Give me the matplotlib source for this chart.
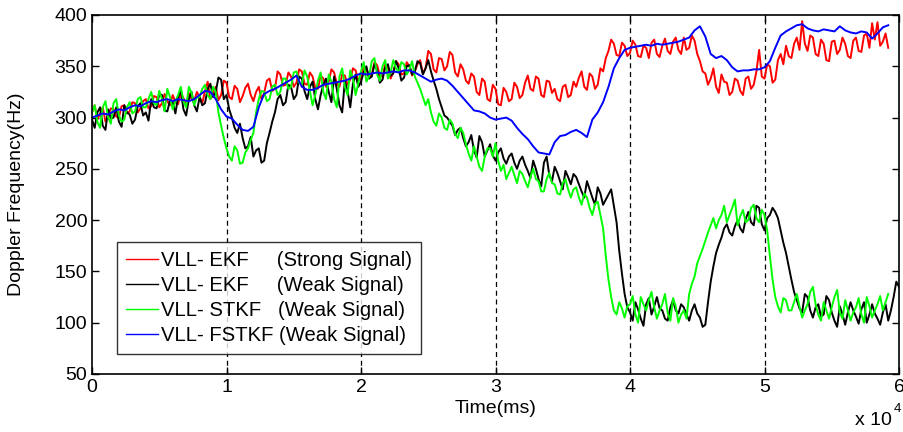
import numpy as np
import matplotlib
matplotlib.use("Agg")
import matplotlib.pyplot as plt

plt.rcParams['font.family'] = ['Liberation Sans', 'DejaVu Sans']

# time step between readings (ms)
noisy_step_ms = 200
blue_step_ms = 400

blue = [300, 302, 304, 303, 306, 308, 307, 310, 312, 311,
        314, 316, 315, 317, 318, 316, 318, 317, 316, 318,
        322, 326, 325, 318, 308, 301, 299, 293, 288, 287,
        291, 310, 323, 326, 328, 331, 334, 337, 341, 330,
        327, 327, 329, 332, 333, 334, 335, 336, 338, 341,
        343, 342, 343, 344, 343, 344, 345, 344, 346, 346,
        344, 341, 338, 335, 337, 338, 336, 331, 325, 319,
        313, 307, 306, 304, 300, 298, 299, 300, 297, 290,
        284, 279, 272, 266, 265, 264, 276, 282, 283, 286,
        288, 285, 281, 298, 305, 315, 330, 348, 358, 366,
        368, 369, 370, 371, 370, 372, 371, 372, 373, 374,
        376, 378, 385, 389, 379, 362, 358, 360, 356, 349,
        345, 346, 346, 347, 347, 349, 355, 368, 380, 384,
        387, 390, 391, 387, 385, 384, 386, 385, 384, 389,
        385, 383, 382, 384, 383, 377, 382, 388, 390]

red = [305, 312, 298, 304, 310, 296, 302, 309, 308, 301, 300, 311, 312, 304, 306, 315, 314, 305, 309, 316,
       318, 309, 311, 321, 320, 310, 314, 323, 316, 312, 322, 315, 313, 324, 319, 312, 324, 318, 316, 325,
       320, 314, 326, 335, 318, 324, 330, 317, 322, 336, 334, 320, 318, 331, 328, 315, 321, 329, 333, 322,
       316, 325, 330, 318, 324, 336, 338, 326, 328, 345, 342, 331, 332, 344, 340, 330, 334, 347, 345, 333,
       332, 344, 340, 329, 328, 341, 338, 330, 335, 347, 344, 333, 330, 342, 341, 332, 337, 348, 346, 336,
       338, 350, 348, 339, 342, 354, 351, 341, 340, 352, 349, 338, 344, 355, 352, 342, 343, 354, 350, 341,
       345, 352, 356, 343, 348, 365, 362, 347, 344, 358, 357, 346, 350, 364, 361, 344, 340, 352, 347, 336,
       333, 343, 340, 325, 322, 338, 335, 318, 316, 332, 328, 313, 312, 329, 325, 316, 318, 334, 330, 319,
       322, 334, 341, 328, 326, 340, 338, 322, 320, 336, 335, 324, 328, 318, 316, 330, 332, 320, 322, 335,
       330, 339, 345, 330, 327, 343, 340, 328, 332, 348, 345, 358, 365, 376, 372, 361, 360, 373, 370, 360,
       363, 375, 371, 360, 359, 370, 368, 358, 373, 376, 362, 359, 370, 377, 365, 362, 374, 378, 366, 362,
       378, 366, 368, 380, 375, 362, 355, 345, 343, 332, 338, 348, 330, 324, 342, 335, 334, 322, 325, 338,
       336, 326, 322, 338, 340, 328, 332, 345, 366, 340, 338, 352, 350, 334, 337, 356, 362, 352, 370, 360,
       358, 372, 378, 366, 394, 372, 365, 380, 378, 362, 360, 376, 372, 356, 355, 374, 375, 362, 366, 378,
       372, 360, 358, 375, 378, 365, 364, 380, 382, 368, 392, 376, 393, 370, 374, 382, 368]

black = [298, 290, 305, 310, 292, 288, 308, 299, 300, 310, 296, 291, 312, 305, 303, 294, 298, 311, 314, 302,
         305, 297, 318, 310, 309, 323, 322, 307, 306, 317, 315, 304, 320, 327, 308, 302, 318, 325, 312, 306,
         320, 312, 314, 328, 333, 320, 325, 339, 337, 318, 322, 308, 300, 290, 285, 294, 280, 270, 272, 281,
         262, 268, 270, 256, 258, 275, 285, 296, 305, 318, 322, 312, 315, 332, 330, 318, 322, 340, 338, 326,
         318, 330, 335, 318, 308, 322, 332, 338, 325, 315, 340, 328, 312, 305, 336, 326, 310, 333, 342, 330,
         335, 344, 350, 338, 340, 352, 346, 334, 337, 349, 352, 341, 343, 355, 348, 336, 339, 350, 351, 342,
         345, 355, 353, 342, 348, 356, 345, 336, 328, 318, 310, 302, 300, 296, 292, 283, 288, 290, 280, 272,
         276, 283, 268, 261, 282, 276, 262, 268, 274, 263, 258, 266, 270, 260, 255, 262, 265, 256, 250, 258,
         262, 254, 248, 241, 258, 250, 240, 233, 256, 262, 244, 238, 252, 246, 238, 230, 248, 242, 235, 245,
         242, 235, 228, 222, 238, 230, 222, 215, 232, 226, 215, 220, 225, 230, 214, 198, 170, 148, 128, 115,
         110, 102, 120, 113, 104, 97, 118, 124, 108, 116, 125, 114, 112, 104, 102, 115, 122, 112, 109, 118,
         115, 108, 102, 112, 118, 109, 105, 96, 98, 120, 140, 155, 168, 176, 183, 192, 196, 188, 185, 194,
         200, 192, 188, 201, 208, 198, 195, 214, 212, 196, 190, 202, 205, 212, 208, 202, 190, 178, 168, 155,
         142, 130, 122, 114, 110, 128, 125, 112, 105, 115, 118, 106, 108, 126, 122, 110, 102, 96, 116, 108,
         98, 110, 120, 112, 106, 99, 113, 120, 100, 108, 118, 109, 104, 98, 110, 118, 102, 112, 125, 140, 135]

green = [305, 312, 296, 290, 310, 316, 300, 294, 314, 318, 302, 296, 298, 310, 315, 304, 306, 318, 320, 310,
         310, 318, 325, 314, 312, 326, 318, 306, 328, 320, 308, 316, 322, 330, 316, 310, 330, 324, 312, 320,
         320, 328, 332, 322, 318, 330, 325, 305, 292, 280, 270, 262, 258, 272, 268, 255, 256, 266, 270, 278,
         285, 305, 318, 326, 325, 316, 318, 330, 332, 322, 325, 338, 338, 328, 330, 344, 345, 334, 332, 346,
         340, 326, 312, 322, 336, 344, 325, 318, 342, 335, 318, 310, 340, 348, 330, 322, 346, 338, 322, 334,
         345, 354, 335, 340, 355, 358, 342, 336, 350, 356, 338, 344, 356, 348, 344, 354, 352, 342, 347, 355,
         340, 334, 328, 320, 312, 318, 305, 296, 292, 304, 300, 290, 288, 298, 294, 284, 280, 290, 285, 274,
         265, 258, 272, 262, 252, 248, 262, 270, 270, 262, 275, 258, 248, 254, 240, 246, 252, 244, 236, 248,
         245, 238, 232, 242, 250, 240, 238, 228, 228, 240, 246, 236, 235, 226, 225, 236, 240, 230, 222, 230,
         232, 222, 215, 226, 222, 212, 205, 216, 218, 205, 192, 165, 142, 125, 112, 108, 120, 114, 105, 116,
         118, 126, 108, 100, 125, 118, 112, 122, 130, 115, 104, 112, 118, 128, 110, 102, 124, 116, 100, 108,
         112, 104, 128, 138, 145, 158, 165, 172, 180, 188, 195, 202, 192, 200, 205, 214, 198, 205, 212, 220,
         195, 204, 210, 198, 200, 212, 215, 202, 198, 210, 205, 190, 165, 142, 125, 116, 110, 124, 122, 112,
         112, 120, 128, 116, 105, 112, 118, 130, 135, 118, 108, 102, 120, 112, 104, 115, 125, 132, 110, 104,
         122, 112, 102, 110, 115, 124, 108, 100, 125, 116, 105, 112, 118, 126, 112, 120, 128]

labels = ["VLL- EKF     (Strong Signal)",
          "VLL- EKF     (Weak Signal)",
          "VLL- STKF   (Weak Signal)",
          "VLL- FSTKF (Weak Signal)"]
colors = ['#ff0000', '#000000', '#00ff00', '#0000ff']
vlines = [10000, 20000, 30000, 40000, 50000]
xticks = [0, 10000, 20000, 30000, 40000, 50000, 60000]
xticklabels = ['0', '1', '2', '3', '4', '5', '6']
yticks = [50, 100, 150, 200, 250, 300, 350, 400]

fig = plt.figure(figsize=(9.04, 4.32), dpi=100)
ax = fig.add_axes([92/904, 1-374/432, (899-92)/904, (374-15)/432])

series = [red, black, green, blue]
steps = [noisy_step_ms, noisy_step_ms, noisy_step_ms, blue_step_ms]
for s, st, c, lab in zip(series, steps, colors, labels):
    t = np.arange(len(s)) * st
    ax.plot(t, s, color=c, lw=1.4, label=lab)

for v in vlines:
    ax.axvline(v, color='black', lw=0.9, ls=(0, (4, 3)), zorder=0.5)

ax.set_xlim(0, 60000)
ax.set_ylim(50, 400)
ax.set_xticks(xticks)
ax.set_xticklabels(xticklabels)
ax.set_yticks(yticks)
ax.tick_params(direction='in', length=5, width=1, labelsize=14,
               top=True, right=True, pad=3.5)
for sp in ax.spines.values():
    sp.set_linewidth(1.2)

ax.set_xlabel('Time(ms)', fontsize=14)
ax.xaxis.set_label_coords(0.5, -0.072)
ax.set_ylabel('Doppler Frequency(Hz)', fontsize=14)
ax.yaxis.set_label_coords(-0.083, 0.5)
fig.text(855/904, 1-425/432, 'x 10', fontsize=14, ha='left', va='baseline')
fig.text(894/904, 1-412/432, '4', fontsize=9.5, ha='left', va='baseline')

leg = ax.legend(loc='lower left', bbox_to_anchor=((117-92)/807, (374-354)/359),
                fontsize=14.6, frameon=True, fancybox=False, edgecolor='black',
                handlelength=1.55, handletextpad=0.15, borderpad=0.45,
                labelspacing=0.3, borderaxespad=0)
leg.get_frame().set_linewidth(1.0)
for h in leg.get_lines():
    h.set_linewidth(1.0)

fig.savefig('out.png', dpi=100)
